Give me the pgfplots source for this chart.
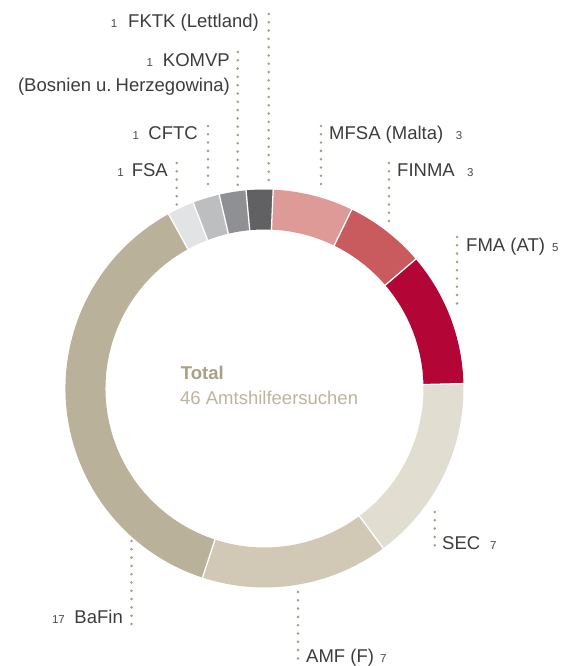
\documentclass[border=0pt]{standalone}
\usepackage{pgfplots}
\pgfplotsset{compat=1.18}
\usepackage{pgfplotstable}
\usepackage{fontspec}
\setmainfont{Liberation Sans}

\definecolor{seg0}{HTML}{DE9A96}% MFSA
\definecolor{seg1}{HTML}{C95B5E}% FINMA
\definecolor{seg2}{HTML}{B30536}% FMA
\definecolor{seg3}{HTML}{E1DDD1}% SEC
\definecolor{seg4}{HTML}{D1C9B5}% AMF
\definecolor{seg5}{HTML}{B9B199}% BaFin
\definecolor{seg6}{HTML}{E2E3E5}% FSA
\definecolor{seg7}{HTML}{BDBEC0}% CFTC
\definecolor{seg8}{HTML}{8F9094}% KOMVP
\definecolor{seg9}{HTML}{616163}% FKTK
\definecolor{dotc}{HTML}{A89C80}
\definecolor{labc}{HTML}{3C3C3C}
\definecolor{numc}{HTML}{4A4A4A}
\definecolor{totc}{HTML}{A99F86}
\definecolor{subc}{HTML}{BDB4A0}

\pgfplotstableread{
name value
MFSA 3
FINMA 3
FMA 5
SEC 7
AMF 7
BaFin 17
FSA 1
CFTC 1
KOMVP 1
FKTK 1
}\donutdata

\def\cx{264.5}
\def\cy{277.5}
\def\Rout{199}
\def\Rin{159}
\def\startang{87.5}
\newcommand\lab{\fontsize{18.5}{22}\selectfont}
\newcommand\num{\fontsize{11.5}{13}\selectfont}

\begin{document}
\frenchspacing
\begin{tikzpicture}
% cumulative angles from the data
\gdef\tot{0}
\foreach \i in {0,...,9}{%
  \pgfplotstablegetelem{\i}{value}\of\donutdata
  \pgfmathsetmacro\newtot{\tot+\pgfplotsretval}%
  \xdef\tot{\newtot}%
}
\gdef\cum{0}
\foreach \i in {0,...,9}{%
  \pgfplotstablegetelem{\i}{value}\of\donutdata
  \let\segval\pgfplotsretval
  \pgfmathsetmacro\angS{\startang-\cum/\tot*360}%
  \pgfmathsetmacro\angE{\startang-(\cum+\segval)/\tot*360}%
  \expandafter\xdef\csname aS\i\endcsname{\angS}%
  \expandafter\xdef\csname aE\i\endcsname{\angE}%
  \pgfmathsetmacro\newcum{\cum+\segval}%
  \xdef\cum{\newcum}%
}
\begin{axis}[x=1pt,y=1pt,xmin=0,xmax=566,ymin=0,ymax=666,
  hide axis, clip=false]
\pgfplotsinvokeforeach{0,...,9}{%
  \fill[seg#1] (axis cs:{\cx+\Rout*cos(\csname aS#1\endcsname)},{\cy+\Rout*sin(\csname aS#1\endcsname)})
    arc[start angle={\csname aS#1\endcsname}, end angle={\csname aE#1\endcsname}, radius=\Rout pt]
    -- (axis cs:{\cx+\Rin*cos(\csname aE#1\endcsname)},{\cy+\Rin*sin(\csname aE#1\endcsname)})
    arc[start angle={\csname aE#1\endcsname}, end angle={\csname aS#1\endcsname}, radius=\Rin pt]
    -- cycle;
}
\pgfplotsinvokeforeach{0,...,9}{%
  \draw[white, line width=1.3pt]
    (axis cs:{\cx+(\Rin-1)*cos(\csname aS#1\endcsname)},{\cy+(\Rin-1)*sin(\csname aS#1\endcsname)})
    -- (axis cs:{\cx+(\Rout+1)*cos(\csname aS#1\endcsname)},{\cy+(\Rout+1)*sin(\csname aS#1\endcsname)});
}
% leader lines
\tikzset{leader/.style={dotc, line width=2.8pt, line cap=round, dash pattern=on 0pt off 8.3pt}}
\draw[leader] (axis cs:268.7,652) -- (axis cs:268.7,483);
\draw[leader] (axis cs:237.7,614) -- (axis cs:237.7,478);
\draw[leader] (axis cs:208,540) -- (axis cs:208,475);
\draw[leader] (axis cs:176.7,503) -- (axis cs:176.7,461);
\draw[leader] (axis cs:321,540) -- (axis cs:321,476);
\draw[leader] (axis cs:389,503) -- (axis cs:389,439);
\draw[leader] (axis cs:457,429) -- (axis cs:457,360);
\draw[leader] (axis cs:434.7,154) -- (axis cs:434.7,118);
\draw[leader] (axis cs:298,74) -- (axis cs:298,2);
\draw[leader] (axis cs:131.5,125) -- (axis cs:131.5,42);
% labels
\tikzset{lbl/.style={inner sep=0pt, font=\lab, text=labc}, nm/.style={inner sep=0pt, font=\num, text=numc}}
\node[lbl, anchor=base east] at (axis cs:259,638.5) {FKTK (Lettland)};
\node[nm, anchor=base east] at (axis cs:117.5,638.5) {1};
\node[lbl, anchor=base east] at (axis cs:230,599.6) {KOMVP};
\node[nm, anchor=base east] at (axis cs:153.3,599.6) {1};
\node[lbl, anchor=base east] at (axis cs:230,574.6) {(Bosnien u.\kern4pt Herzegowina)};
\node[lbl, anchor=base east] at (axis cs:198,526.6) {CFTC};
\node[nm, anchor=base east] at (axis cs:139.3,526.6) {1};
\node[lbl, anchor=base east] at (axis cs:168,489.6) {FSA};
\node[nm, anchor=base east] at (axis cs:124,489.6) {1};
\node[lbl, anchor=base west] at (axis cs:329,526.6) {MFSA (Malta)};
\node[nm, anchor=base west] at (axis cs:455.7,526.6) {3};
\node[lbl, anchor=base west] at (axis cs:397,489.6) {FINMA};
\node[nm, anchor=base west] at (axis cs:467,489.6) {3};
\node[lbl, anchor=base west] at (axis cs:466,414.6) {FMA (AT)};
\node[nm, anchor=base west] at (axis cs:552,414.6) {5};
\node[lbl, anchor=base west] at (axis cs:442,116.6) {SEC};
\node[nm, anchor=base west] at (axis cs:490,116.6) {7};
\node[lbl, anchor=base west] at (axis cs:306,4) {AMF (F)};
\node[nm, anchor=base west] at (axis cs:380,4) {7};
\node[lbl, anchor=base east] at (axis cs:123,42.6) {BaFin};
\node[nm, anchor=base east] at (axis cs:65,42.6) {17};
% centre
\node[inner sep=0pt, anchor=base west, font=\lab\bfseries, text=totc] at (axis cs:180.7,286.6) {Total};
\node[inner sep=0pt, anchor=base west, font=\lab, text=subc] at (axis cs:180,261.6) {46 Amtshilfeersuchen};
\end{axis}
\pgfresetboundingbox
\useasboundingbox (current axis.south west) rectangle (current axis.north east);
\end{tikzpicture}
\end{document}
